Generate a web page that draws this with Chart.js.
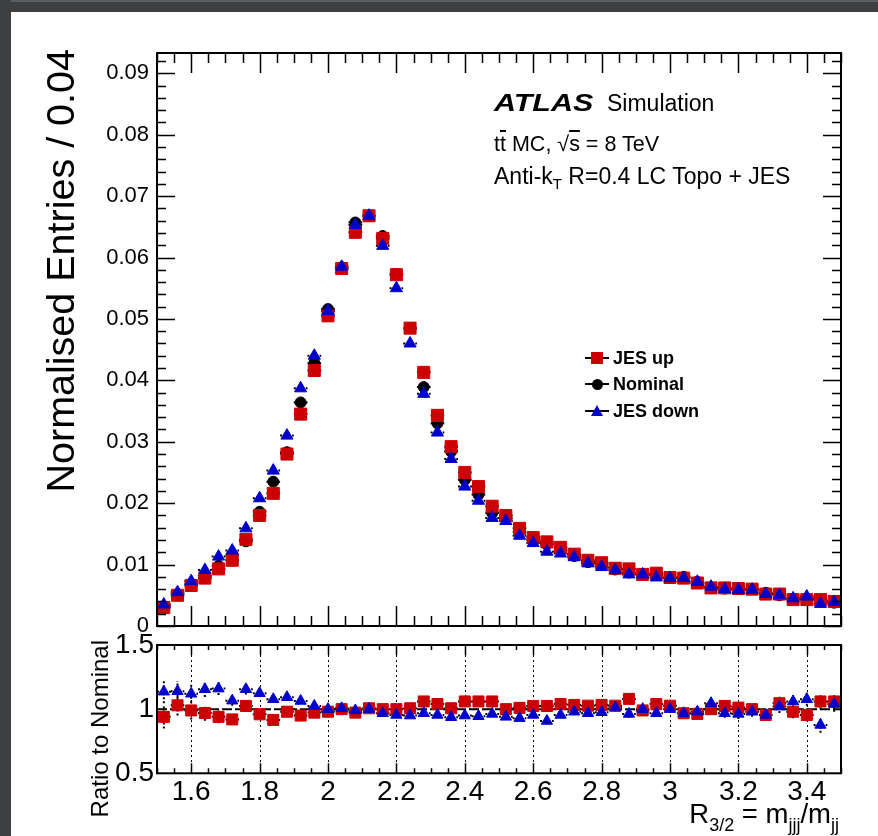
<!DOCTYPE html>
<html>
<head>
<meta charset="utf-8">
<script src="https://cdn.jsdelivr.net/npm/chart.js"></script>
<style>
  html, body { margin: 0; padding: 0; overflow: hidden; }
  body {
    width: 878px;
    height: 836px;
    position: relative;
    background: #fff;
    font-family: "Liberation Sans", Arial, sans-serif;
    color: #000;
  }
  .bar_top {
    position: absolute; left: 0; top: 0; width: 878px; height: 12px;
    background: #3d3f41; border-top: 2px solid #5b5d5f; box-sizing: border-box;
  }
  .bar_left {
    position: absolute; left: 0; top: 0; width: 11px; height: 836px; background: #3d3f41;
  }
  canvas { position: absolute; left: 0; }
  #mainChart { top: 0; }
  #ratioChart { top: 620px; }
  .txt { position: absolute; white-space: nowrap; line-height: 1; }
  .ov { text-decoration: overline; }
  .atlas { display: inline-block; font-weight: bold; font-style: italic; transform: scaleX(1.27); transform-origin: 0 0; }
  .ytitle {
    position: absolute; white-space: nowrap; line-height: 1; text-align: right;
    transform: rotate(-90deg); transform-origin: 100% 0;
  }
  .leg { position: absolute; font-weight: bold; font-size: 18px; line-height: 1; white-space: nowrap; }
  .leg_line { position: absolute; width: 24px; height: 2px; background: #000; }
  .leg_sq { position: absolute; width: 12px; height: 12px; background: #cc0000; }
  .leg_ci { position: absolute; width: 11px; height: 11px; border-radius: 50%; background: #000; }
  .leg_tr {
    position: absolute; width: 0; height: 0;
    border-left: 6px solid transparent; border-right: 6px solid transparent;
    border-bottom: 11px solid #0000cc;
  }
</style>
</head>
<body>
<div class="bar_top"></div>
<div class="bar_left"></div>

<canvas id="mainChart" width="878" height="660"></canvas>
<canvas id="ratioChart" width="878" height="216"></canvas>

<!-- labels -->
<div class="txt" style="left:494px; top:91px; font-size:24px;"><span class="atlas">ATLAS</span></div>
<div class="txt" style="left:607px; top:92px; font-size:23px;">Simulation</div>
<div class="txt" style="left:494px; top:134px; font-size:21.5px;">t<span class="ov">t</span> MC, √<span class="ov">s</span> = 8 TeV</div>
<div class="txt" style="left:494px; top:165px; font-size:23px;">Anti-k<sub style="font-size:15px; vertical-align:-5px;">T</sub> R=0.4 LC Topo + JES</div>

<div class="ytitle" style="left:-459px; top:49px; width:500px; font-size:39.5px;">Normalised Entries / 0.04</div>
<div class="ytitle" style="left:-212px; top:640px; width:300px; font-size:24px;">Ratio to Nominal</div>

<div class="txt" style="right:39px; top:800px; font-size:27.5px;">R<sub style="font-size:18px; vertical-align:-8px;">3/2</sub> = m<sub style="font-size:18px; vertical-align:-8px;">jjj</sub>/m<sub style="font-size:18px; vertical-align:-8px;">jj</sub></div>

<!-- legend -->
<div class="leg_line" style="left:585px; top:357px;"></div>
<div class="leg_sq" style="left:591px; top:352px;"></div>
<div class="leg" style="left:613px; top:349px;">JES up</div>
<div class="leg_line" style="left:585px; top:383px;"></div>
<div class="leg_ci" style="left:592px; top:378.5px;"></div>
<div class="leg" style="left:613px; top:375px;">Nominal</div>
<div class="leg_line" style="left:585px; top:410px;"></div>
<div class="leg_tr" style="left:591px; top:405px;"></div>
<div class="leg" style="left:613px; top:402px;">JES down</div>

<script>
  // bin centres (bin width 0.04)
  const binCenters = [1.52, 1.56, 1.60, 1.64, 1.68, 1.72, 1.76, 1.80, 1.84, 1.88,
    1.92, 1.96, 2.00, 2.04, 2.08, 2.12, 2.16, 2.20, 2.24, 2.28,
    2.32, 2.36, 2.40, 2.44, 2.48, 2.52, 2.56, 2.60, 2.64, 2.68,
    2.72, 2.76, 2.80, 2.84, 2.88, 2.92, 2.96, 3.00, 3.04, 3.08,
    3.12, 3.16, 3.20, 3.24, 3.28, 3.32, 3.36, 3.40, 3.44, 3.48];

  const jesUp = [0.0030, 0.0050, 0.0066, 0.0078, 0.0093, 0.0107, 0.0141, 0.0180, 0.0216, 0.0280,
    0.0345, 0.0416, 0.0505, 0.0582, 0.0641, 0.0668, 0.0631, 0.0572, 0.0485, 0.0413,
    0.0343, 0.0292, 0.0250, 0.0227, 0.0195, 0.0180, 0.0159, 0.0144, 0.0137, 0.0128,
    0.0117, 0.0107, 0.0103, 0.0094, 0.0093, 0.0084, 0.0086, 0.0079, 0.0078, 0.0070,
    0.0062, 0.0062, 0.0061, 0.0060, 0.0052, 0.0052, 0.0043, 0.0043, 0.0043, 0.0040];

  const nominal = [0.0032, 0.0052, 0.0068, 0.0082, 0.0098, 0.0116, 0.0138, 0.0186, 0.0235, 0.0283,
    0.0364, 0.0428, 0.0516, 0.0584, 0.0657, 0.0668, 0.0635, 0.0573, 0.0485, 0.0389,
    0.0330, 0.0284, 0.0238, 0.0214, 0.0184, 0.0175, 0.0153, 0.0140, 0.0133, 0.0123,
    0.0114, 0.0104, 0.0100, 0.0092, 0.0087, 0.0084, 0.0083, 0.0078, 0.0080, 0.0072,
    0.0062, 0.0061, 0.0060, 0.0060, 0.0054, 0.0050, 0.0044, 0.0045, 0.0041, 0.0038];

  const jesDown = [0.0035, 0.0055, 0.0073, 0.0091, 0.0113, 0.0123, 0.0159, 0.0208, 0.0253, 0.0310,
    0.0387, 0.0440, 0.0513, 0.0585, 0.0653, 0.0668, 0.0619, 0.0550, 0.0460, 0.0378,
    0.0315, 0.0272, 0.0227, 0.0204, 0.0176, 0.0171, 0.0147, 0.0135, 0.0121, 0.0118,
    0.0112, 0.0102, 0.0096, 0.0091, 0.0084, 0.0084, 0.0079, 0.0078, 0.0078, 0.0072,
    0.0064, 0.0060, 0.0059, 0.0059, 0.0052, 0.0050, 0.0045, 0.0048, 0.0036, 0.0039];

  const ratioUp = [0.94, 1.03, 0.99, 0.97, 0.94, 0.92, 1.025, 0.96, 0.916, 0.98,
    0.95, 0.973, 0.98, 1.0, 0.973, 1.007, 1.0, 1.0, 1.007, 1.06,
    1.04, 1.007, 1.06, 1.06, 1.06, 1.0, 1.01, 1.025, 1.025, 1.04,
    1.033, 1.027, 1.033, 1.027, 1.08, 0.99, 1.04, 1.027, 0.968, 0.963,
    1.0, 1.025, 1.012, 1.0, 0.955, 1.046, 0.98, 0.955, 1.06, 1.06];

  const ratioDown = [1.136, 1.14, 1.12, 1.155, 1.16, 1.066, 1.155, 1.124, 1.077, 1.093,
    1.064, 1.025, 1.0, 1.007, 0.99, 1.0, 0.968, 0.955, 0.95, 0.968,
    0.955, 0.937, 0.95, 0.945, 0.963, 0.94, 0.93, 0.955, 0.908, 0.955,
    0.98, 0.968, 0.976, 1.012, 0.963, 1.0, 0.968, 1.0, 0.968, 0.98,
    1.046, 0.968, 0.963, 0.98, 0.955, 1.02, 1.06, 1.077, 0.877, 1.04];

  const ratioErr = [0.09, 0.08, 0.07, 0.06, 0.05, 0.04, 0.04, 0.03, 0.03, 0.02,
    0.02, 0.02, 0.015, 0.015, 0.015, 0.015, 0.015, 0.015, 0.015, 0.015,
    0.02, 0.02, 0.02, 0.02, 0.02, 0.02, 0.02, 0.02, 0.025, 0.025,
    0.025, 0.025, 0.025, 0.03, 0.03, 0.03, 0.03, 0.03, 0.03, 0.035,
    0.035, 0.035, 0.04, 0.04, 0.04, 0.05, 0.05, 0.05, 0.06, 0.06];

  const yTicksMain = [0, 0.01, 0.02, 0.03, 0.04, 0.05, 0.06, 0.07, 0.08, 0.09];
  const yTicksRatio = [0.5, 1, 1.5];
  const xTickLabels = [1.6, 1.8, 2.0, 2.2, 2.4, 2.6, 2.8, 3.0, 3.2, 3.4];

  const RED = "#cc0000";
  const BLUE = "#0000cc";
  const FONT = "'Liberation Sans', Arial, sans-serif";
  const binHalf = 0.02;

  const toPoints = (arr) => binCenters.map((x, i) => ({ x: x, y: arr[i] }));

  // ROOT-like frame with inward ticks
  const rootFrame = {
    id: "rootFrame",
    afterDraw(chart, args, o) {
      const { ctx, chartArea: a, scales } = chart;
      const xs = scales.x, ys = scales.y;
      ctx.save();
      ctx.strokeStyle = "#000";
      ctx.lineWidth = 1.5;
      ctx.setLineDash([]);
      ctx.beginPath();
      const nx = Math.round((xs.max - xs.min) / o.xMinor);
      for (let k = 0; k <= nx; k++) {
        const v = xs.min + k * o.xMinor;
        const r = v / o.xMajor;
        const len = Math.abs(r - Math.round(r)) < 1e-6 ? o.xMajorLen : o.xMinorLen;
        const px = Math.round(xs.getPixelForValue(v)) + 0.5;
        ctx.moveTo(px, a.bottom); ctx.lineTo(px, a.bottom - len);
        ctx.moveTo(px, a.top); ctx.lineTo(px, a.top + len);
      }
      if (o.yMinor) {
        const ny = Math.floor((ys.max - ys.min) / o.yMinor + 1e-6);
        for (let k = 0; k <= ny; k++) {
          const v = ys.min + k * o.yMinor;
          const r = v / o.yMajor;
          const len = Math.abs(r - Math.round(r)) < 1e-6 ? o.yMajorLen : o.yMinorLen;
          const py = Math.round(ys.getPixelForValue(v)) + 0.5;
          ctx.moveTo(a.left, py); ctx.lineTo(a.left + len, py);
          ctx.moveTo(a.right, py); ctx.lineTo(a.right - len, py);
        }
      }
      ctx.stroke();
      ctx.lineWidth = 2;
      ctx.strokeRect(a.left, a.top, a.right - a.left, a.bottom - a.top);
      ctx.restore();
    }
  };

  // bin-width error bars, ratio reference line and dotted grid
  const errBars = {
    id: "errBars",
    beforeDatasetsDraw(chart, args, o) {
      const { ctx, chartArea: a, scales } = chart;
      const xs = scales.x, ys = scales.y;
      ctx.save();
      ctx.beginPath();
      ctx.rect(a.left, a.top, a.right - a.left, a.bottom - a.top);
      ctx.clip();
      if (o.grid) {
        ctx.strokeStyle = "#000";
        ctx.lineWidth = 1;
        ctx.setLineDash([2, 3]);
        ctx.beginPath();
        o.grid.forEach(v => {
          const px = Math.round(xs.getPixelForValue(v)) + 0.5;
          ctx.moveTo(px, a.top); ctx.lineTo(px, a.bottom);
        });
        ctx.stroke();
        const py = ys.getPixelForValue(1);
        ctx.lineWidth = 2;
        ctx.setLineDash([10, 3]);
        ctx.beginPath();
        ctx.moveTo(a.left, py); ctx.lineTo(a.right, py);
        ctx.stroke();
      }
      ctx.strokeStyle = "#000";
      ctx.lineWidth = 2;
      ctx.setLineDash([2, 2]);
      ctx.beginPath();
      chart.data.datasets.forEach(ds => {
        ds.data.forEach((p, i) => {
          const py = ys.getPixelForValue(p.y);
          ctx.moveTo(xs.getPixelForValue(p.x - binHalf), py);
          ctx.lineTo(xs.getPixelForValue(p.x + binHalf), py);
          if (o.yErr) {
            const px = xs.getPixelForValue(p.x);
            ctx.moveTo(px, ys.getPixelForValue(p.y - o.yErr[i]));
            ctx.lineTo(px, ys.getPixelForValue(p.y + o.yErr[i]));
          }
        });
      });
      ctx.stroke();
      ctx.restore();
    }
  };

  const markerSet = (label, arr, style, color, radius, order) => ({
    label: label,
    data: toPoints(arr),
    pointStyle: style,
    pointRadius: radius,
    pointHoverRadius: radius,
    backgroundColor: color,
    borderColor: color,
    borderWidth: 1,
    showLine: false,
    order: order
  });

  new Chart(document.getElementById("mainChart"), {
    type: "scatter",
    data: {
      datasets: [
        markerSet("JES down", jesDown, "triangle", BLUE, 7, 0),
        markerSet("JES up", jesUp, "rect", RED, 8.5, 1),
        markerSet("Nominal", nominal, "circle", "#000", 5.5, 2)
      ]
    },
    options: {
      responsive: false,
      animation: false,
      devicePixelRatio: 1,
      layout: { padding: { left: 0, top: 53, right: 37, bottom: 34 } },
      plugins: {
        legend: { display: false },
        tooltip: { enabled: false },
        rootFrame: { xMinor: 0.05, xMajor: 0.2, xMajorLen: 20, xMinorLen: 10,
                     yMinor: 0.002, yMajor: 0.01, yMajorLen: 18, yMinorLen: 9 },
        errBars: {}
      },
      scales: {
        x: { type: "linear", min: 1.5, max: 3.5, display: false },
        y: {
          min: 0,
          max: 0.0933,
          grid: { display: false, drawTicks: false },
          border: { display: false },
          afterFit(s) { s.width = 157; },
          afterBuildTicks(s) { s.ticks = yTicksMain.map(v => ({ value: v })); },
          ticks: {
            padding: 8,
            color: "#000",
            autoSkip: false,
            font: { family: FONT, size: 22 },
            callback: v => (v === 0 ? "0" : v.toFixed(2))
          }
        }
      }
    },
    plugins: [rootFrame, errBars]
  });

  new Chart(document.getElementById("ratioChart"), {
    type: "scatter",
    data: {
      datasets: [
        markerSet("JES down", ratioDown, "triangle", BLUE, 6.5, 0),
        markerSet("JES up", ratioUp, "rect", RED, 7.8, 1)
      ]
    },
    options: {
      responsive: false,
      animation: false,
      devicePixelRatio: 1,
      layout: { padding: { left: 0, top: 25, right: 37, bottom: 0 } },
      plugins: {
        legend: { display: false },
        tooltip: { enabled: false },
        rootFrame: { xMinor: 0.05, xMajor: 0.2, xMajorLen: 10, xMinorLen: 5, yMinor: null },
        errBars: { grid: xTickLabels, yErr: ratioErr }
      },
      scales: {
        x: {
          type: "linear",
          min: 1.5,
          max: 3.5,
          grid: { display: false, drawTicks: false },
          border: { display: false },
          afterFit(s) { s.height = 62.7; },
          afterBuildTicks(s) { s.ticks = xTickLabels.map(v => ({ value: v })); },
          ticks: {
            padding: 2,
            color: "#000",
            autoSkip: false,
            maxRotation: 0,
            font: { family: FONT, size: 28 },
            callback: v => String(v)
          }
        },
        y: {
          min: 0.5,
          max: 1.5,
          grid: { display: false, drawTicks: false },
          border: { display: false },
          afterFit(s) { s.width = 157; },
          afterBuildTicks(s) { s.ticks = yTicksRatio.map(v => ({ value: v })); },
          ticks: {
            padding: 3,
            color: "#000",
            autoSkip: false,
            font: { family: FONT, size: 28 },
            callback: v => String(v)
          }
        }
      }
    },
    plugins: [rootFrame, errBars]
  });
</script>
</body>
</html>
